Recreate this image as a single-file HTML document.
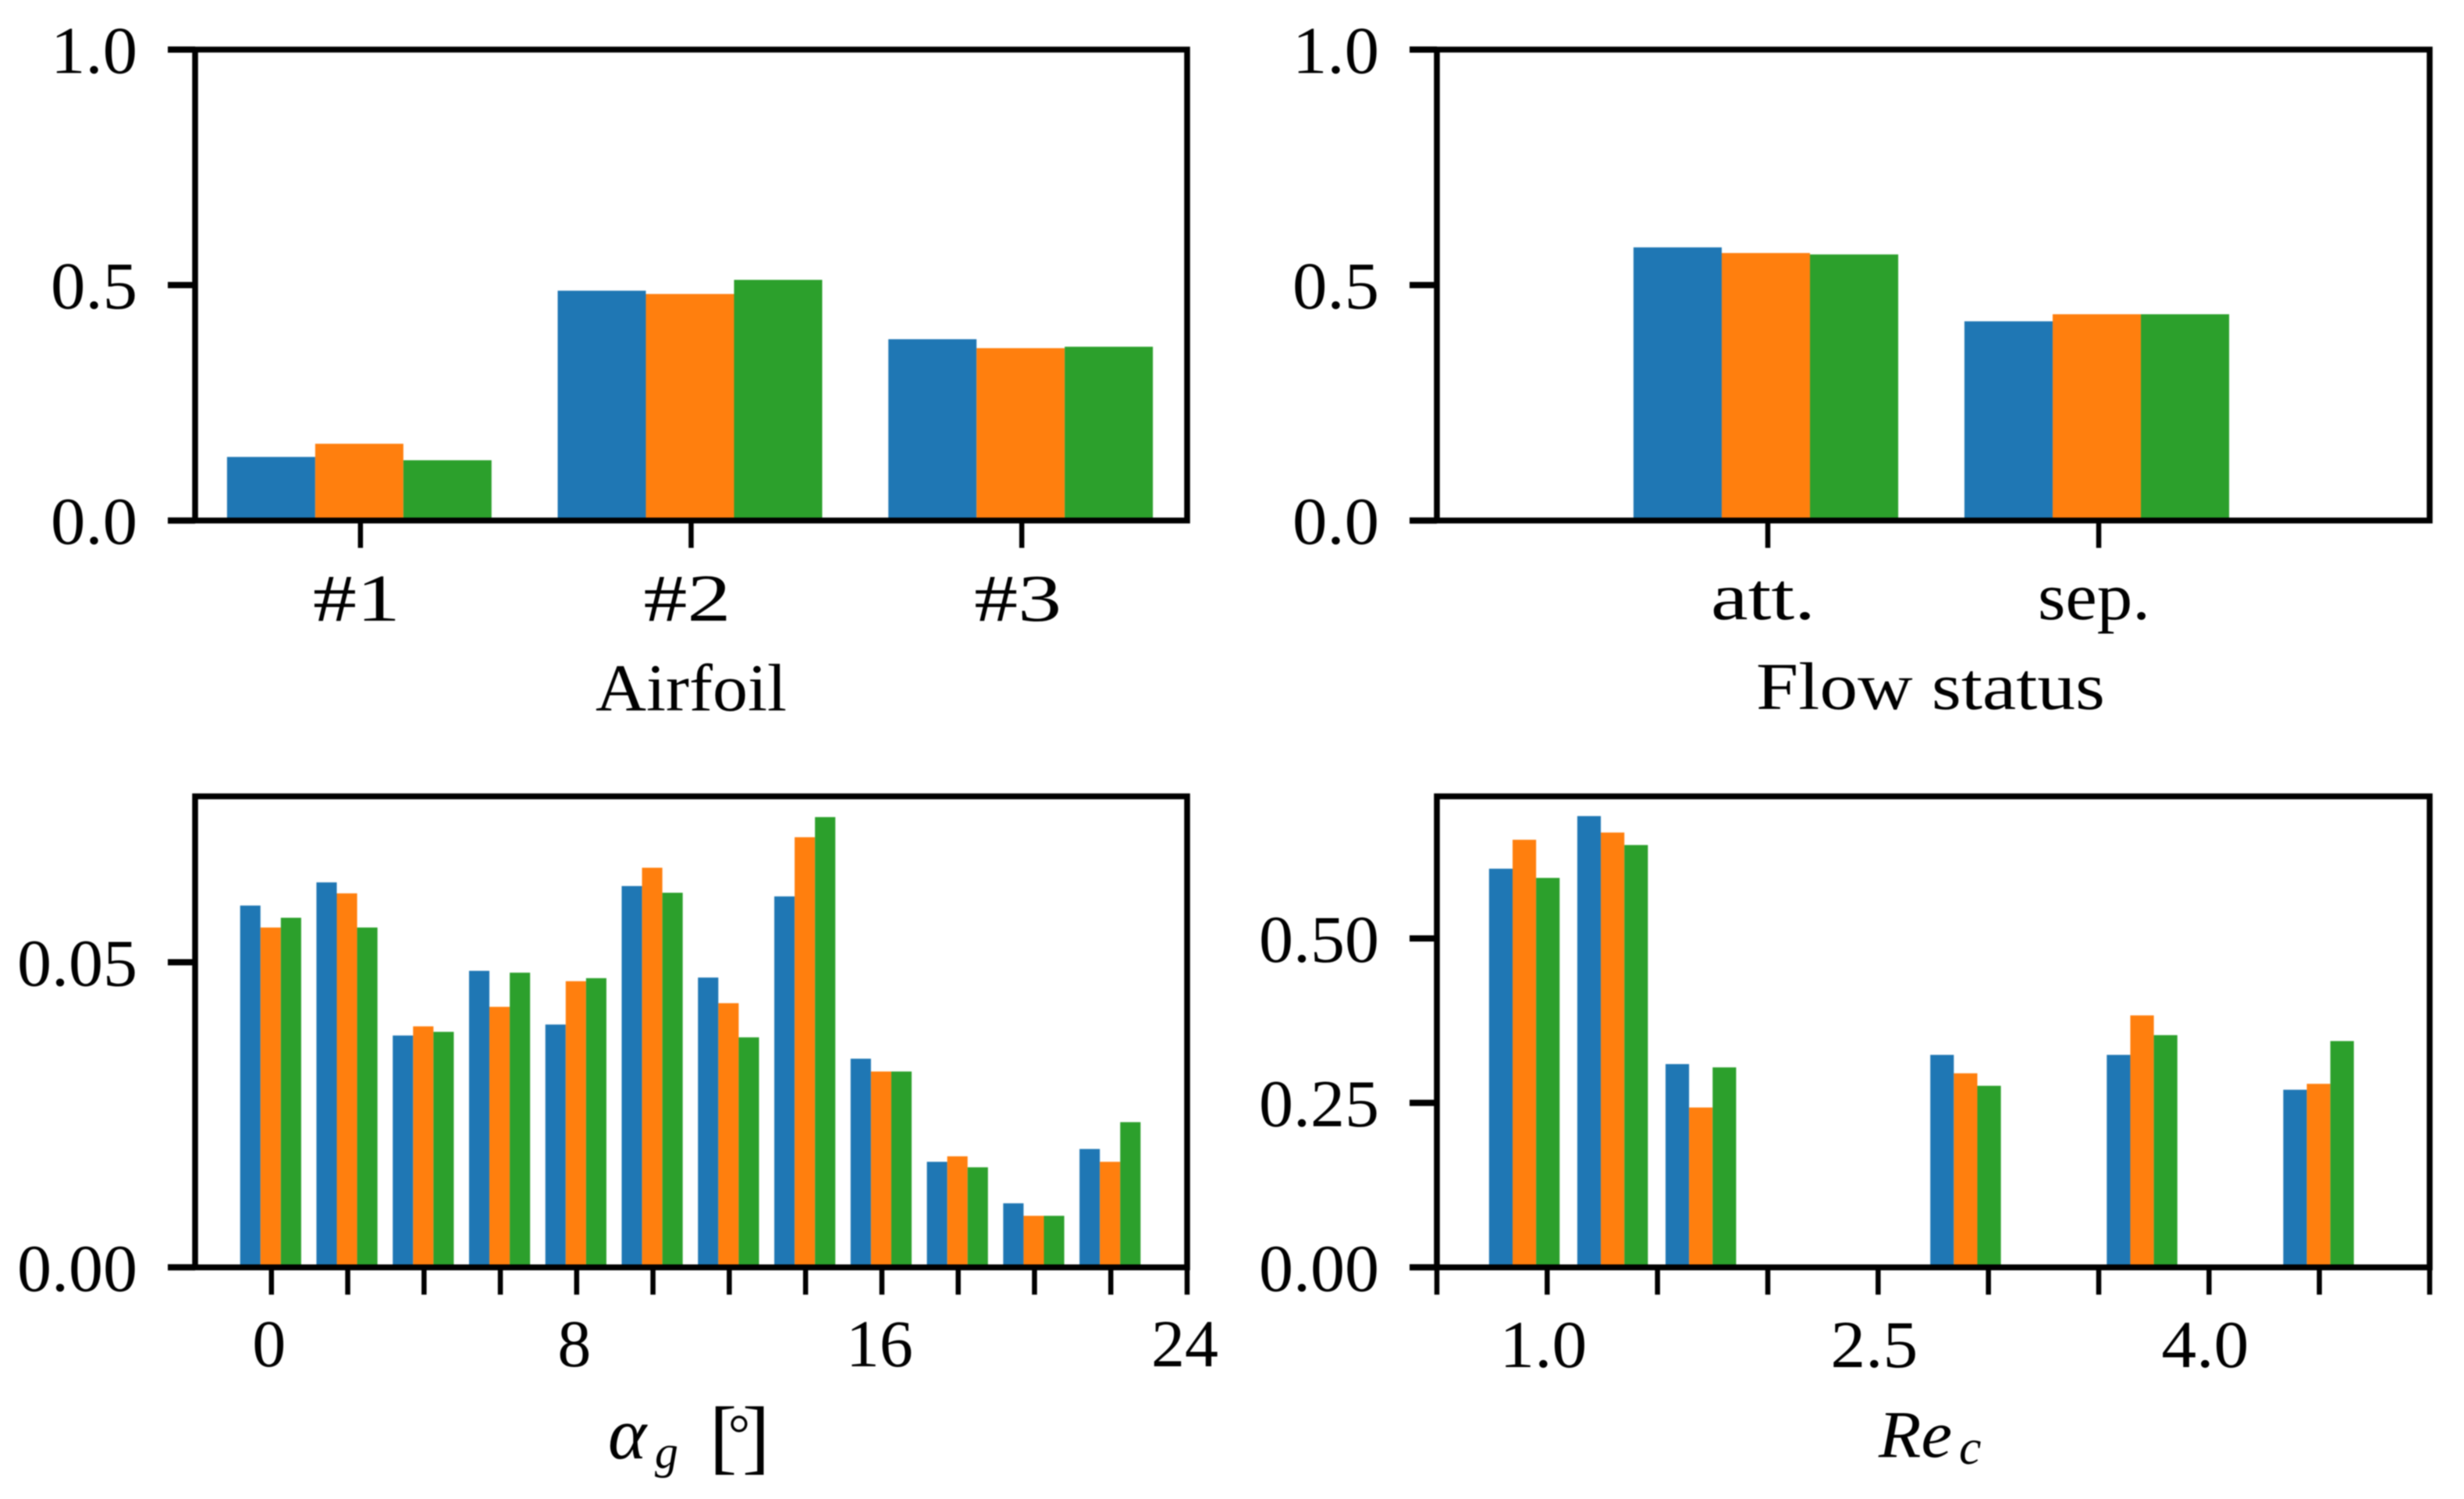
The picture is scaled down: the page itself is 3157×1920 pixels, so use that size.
<!DOCTYPE html>
<html lang="en">
<head>
<meta charset="utf-8">
<title>Bar charts by airfoil, flow status, angle and Reynolds number</title>
<style>
html,body{margin:0;padding:0;background:#fff;width:3157px;height:1920px;overflow:hidden}
svg{display:block;filter:blur(0.7px)}
text{font-family:"Liberation Serif","DejaVu Serif",serif;fill:#000}
</style>
</head>
<body>
<svg id="chart" xmlns="http://www.w3.org/2000/svg" width="3157" height="1920" viewBox="0 0 3157 1920">
  <rect x="0" y="0" width="3157" height="1920" fill="#fff"/>
  <g id="marks"></g>
  <text x="763" y="910" font-size="86" textLength="245" lengthAdjust="spacingAndGlyphs">Airfoil</text>
  <text x="2250" y="908" font-size="86" textLength="447" lengthAdjust="spacingAndGlyphs">Flow status</text>
  <g>
    <text x="779" y="1868" font-size="94" font-style="italic">α</text>
    <text x="839" y="1880" font-size="60" font-style="italic">g</text>
    <text x="909" y="1875" font-size="106">[</text>
    <text x="933" y="1860" font-size="70">°</text>
    <text x="951" y="1875" font-size="106">]</text>
  </g>
  <g>
    <text x="2407" y="1866" font-size="86" font-style="italic" textLength="94" lengthAdjust="spacingAndGlyphs">Re</text>
    <text x="2510" y="1875" font-size="64" font-style="italic">c</text>
  </g>
</svg>
<script>
// ---- Data ----
const seriesColors = ["#1f77b4", "#ff7f0e", "#2ca02c"];

// Airfoil panel
const airfoilCategories = [0, 1, 2];
const airfoilSeriesA = [0.135, 0.488, 0.385];
const airfoilSeriesB = [0.163, 0.481, 0.366];
const airfoilSeriesC = [0.128, 0.511, 0.369];
const airfoilXTicks = [0, 1, 2];
const airfoilXLabelValues = [0, 1, 2];
const airfoilXLabels = ["#1", "#2", "#3"];
const airfoilYTicks = [0, 0.5, 1];
const airfoilYLabels = ["0.0", "0.5", "1.0"];

// Flow status panel
const flowCategories = [0, 1];
const flowSeriesA = [0.58, 0.423];
const flowSeriesB = [0.568, 0.438];
const flowSeriesC = [0.565, 0.438];
const flowXTicks = [0, 1];
const flowXLabelValues = [0, 1];
const flowXLabels = ["att.", "sep."];
const flowYTicks = [0, 0.5, 1];
const flowYLabels = ["0.0", "0.5", "1.0"];

// Angle panel
const angleCategories = [0, 2, 4, 6, 8, 10, 12, 14, 16, 18, 20, 22];
const angleSeriesA = [0.0593, 0.0631, 0.0380, 0.0486, 0.0398, 0.0625, 0.0475, 0.0608, 0.0342, 0.0173, 0.0105, 0.0194];
const angleSeriesB = [0.0557, 0.0613, 0.0395, 0.0427, 0.0469, 0.0655, 0.0433, 0.0705, 0.0321, 0.0182, 0.00845, 0.0173];
const angleSeriesC = [0.0573, 0.0557, 0.0386, 0.0483, 0.0474, 0.0614, 0.0377, 0.0738, 0.0321, 0.0164, 0.00845, 0.0238];
const angleXTicks = [0, 2, 4, 6, 8, 10, 12, 14, 16, 18, 20, 22, 24];
const angleXLabelValues = [0, 8, 16, 24];
const angleXLabels = ["0", "8", "16", "24"];
const angleYTicks = [0, 0.05];
const angleYLabels = ["0.00", "0.05"];

// Reynolds number panel
const reCategories = [0.9, 1.3, 1.7, 2.9, 3.7, 4.5];
const reSeriesA = [0.606, 0.686, 0.309, 0.323, 0.323, 0.270];
const reSeriesB = [0.650, 0.661, 0.243, 0.295, 0.383, 0.279];
const reSeriesC = [0.592, 0.642, 0.304, 0.276, 0.353, 0.344];
const reXTicks = [0.5, 1, 1.5, 2, 2.5, 3, 3.5, 4, 4.5, 5];
const reXLabelValues = [1, 2.5, 4];
const reXLabels = ["1.0", "2.5", "4.0"];
const reYTicks = [0, 0.25, 0.5];
const reYLabels = ["0.00", "0.25", "0.50"];

// ---- Drawing ----
const SVG_NS = "http://www.w3.org/2000/svg";
const marksRoot = document.getElementById("marks");

function make(parent, tag, attrs) {
  const node = document.createElementNS(SVG_NS, tag);
  for (const key in attrs) node.setAttribute(key, attrs[key]);
  parent.appendChild(node);
  return node;
}

function drawPanel(cfg) {
  const panel = make(marksRoot, "g", {});
  
  

  const xScale = function (v) {
    return cfg.left + (v - cfg.xMin) / (cfg.xMax - cfg.xMin) * (cfg.right - cfg.left);
  };
  const yScale = function (v) {
    return cfg.bottom - (v - cfg.yMin) / (cfg.yMax - cfg.yMin) * (cfg.bottom - cfg.top);
  };

  // bars
  cfg.series.forEach(function (values, s) {
    values.forEach(function (value, i) {
      const x0 = xScale(cfg.categories[i] + (s - 1.5) * cfg.barWidth) + cfg.barShift;
      const x1 = xScale(cfg.categories[i] + (s - 0.5) * cfg.barWidth) + cfg.barShift;
      const y = yScale(value);
      const bar = make(panel, "rect", {
        x: x0, y: y, width: x1 - x0, height: yScale(0) - y, fill: seriesColors[s]
      });
      
      
    });
  });

  // y ticks and labels
  cfg.yTicks.forEach(function (value, i) {
    const y = yScale(value);
    const tick = make(panel, "line", {
      x1: cfg.left - 35, x2: cfg.left, y1: y, y2: y, stroke: "#000", "stroke-width": 8
    });
    
    
    const label = make(panel, "text", {
      x: cfg.yLabelRight, y: y + 30, "font-size": 86, "text-anchor": "end",
      textLength: cfg.yLabels[i].length === 3 ? 111 : 154, lengthAdjust: "spacingAndGlyphs"
    });
    label.textContent = cfg.yLabels[i];
    
    
  });

  // x ticks
  cfg.xTicks.forEach(function (value) {
    const x = xScale(value);
    const tick = make(panel, "line", {
      x1: x, x2: x, y1: cfg.bottom, y2: cfg.bottom + 35, stroke: "#000", "stroke-width": 6.5
    });
    
    
  });

  // x labels
  cfg.xLabels.forEach(function (text, i) {
    const attrs = {
      x: xScale(cfg.xLabelValues[i]) + cfg.labelShift,
      y: cfg.xLabelBaseline,
      "font-size": 86,
      "text-anchor": "middle"
    };
    if (cfg.labelStretch) {
      attrs.textLength = cfg.labelStretch[i];
      attrs.lengthAdjust = "spacingAndGlyphs";
    }
    const label = make(panel, "text", attrs);
    label.textContent = text;
    
    
  });

  // spines
  const frame = make(panel, "rect", {
    x: cfg.left, y: cfg.top, width: cfg.right - cfg.left, height: cfg.bottom - cfg.top,
    fill: "none", stroke: "#000", "stroke-width": 7.5
  });
  
  
}

drawPanel({
  name: "airfoil", left: 250, right: 1521, top: 63.5, bottom: 666.7,
  xMin: -0.5, xMax: 2.5, yMin: 0, yMax: 1, barWidth: 0.8 / 3, barShift: -1.5,
  categories: airfoilCategories, series: [airfoilSeriesA, airfoilSeriesB, airfoilSeriesC],
  xTicks: airfoilXTicks, xLabelValues: airfoilXLabelValues, xLabels: airfoilXLabels,
  yTicks: airfoilYTicks, yLabels: airfoilYLabels,
  yLabelRight: 176, xLabelBaseline: 795, labelShift: -5, labelStretch: [112, 112, 112]
});
drawPanel({
  name: "flow-status", left: 1841, right: 3113, top: 63.5, bottom: 666.7,
  xMin: -1, xMax: 2, yMin: 0, yMax: 1, barWidth: 0.8 / 3, barShift: -2.5,
  categories: flowCategories, series: [flowSeriesA, flowSeriesB, flowSeriesC],
  xTicks: flowXTicks, xLabelValues: flowXLabelValues, xLabels: flowXLabels,
  yTicks: flowYTicks, yLabels: flowYLabels,
  yLabelRight: 1767, xLabelBaseline: 793, labelShift: -6, labelStretch: [134, 144]
});
drawPanel({
  name: "angle", left: 250, right: 1521, top: 1020, bottom: 1623.3,
  xMin: -2, xMax: 24, yMin: 0, yMax: 0.0772, barWidth: 1.6 / 3, barShift: -1,
  categories: angleCategories, series: [angleSeriesA, angleSeriesB, angleSeriesC],
  xTicks: angleXTicks, xLabelValues: angleXLabelValues, xLabels: angleXLabels,
  yTicks: angleYTicks, yLabels: angleYLabels,
  yLabelRight: 176, xLabelBaseline: 1750, labelShift: -3
});
drawPanel({
  name: "reynolds", left: 1841, right: 3113, top: 1020, bottom: 1623.3,
  xMin: 0.5, xMax: 5, yMin: 0, yMax: 0.716, barWidth: 0.32 / 3, barShift: -1,
  categories: reCategories, series: [reSeriesA, reSeriesB, reSeriesC],
  xTicks: reXTicks, xLabelValues: reXLabelValues, xLabels: reXLabels,
  yTicks: reYTicks, yLabels: reYLabels,
  yLabelRight: 1767, xLabelBaseline: 1751, labelShift: -5, labelStretch: [112, 112, 112]
});
</script>
</body>
</html>
